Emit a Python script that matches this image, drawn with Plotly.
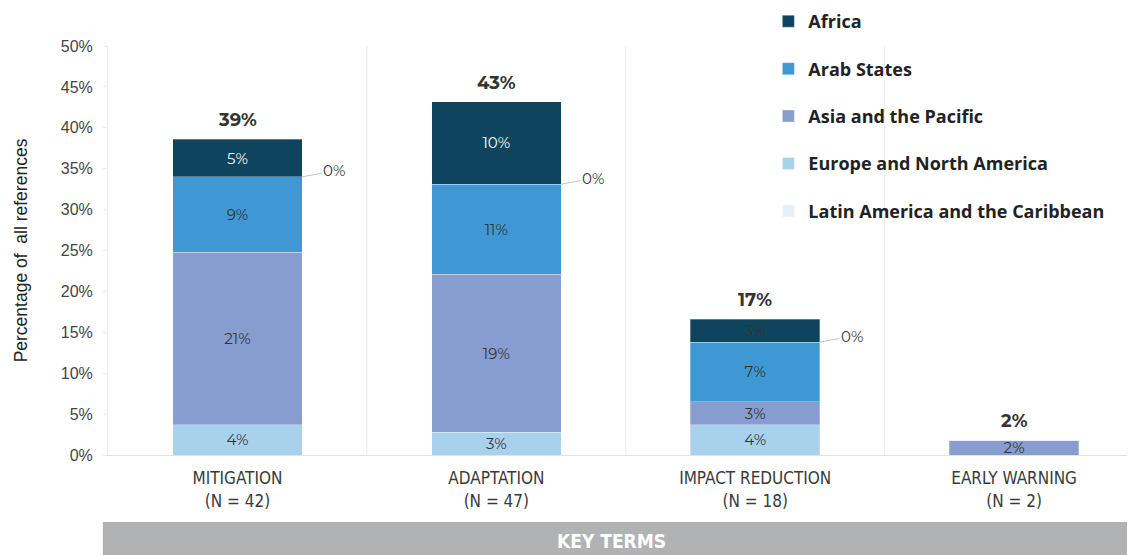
import plotly.graph_objects as go

# key terms on the x axis
categories = ["MITIGATION<br>(N = 42)", "ADAPTATION<br>(N = 47)",
              "IMPACT REDUCTION<br>(N = 18)", "EARLY WARNING<br>(N = 2)"]

# percentage of all references, per region (bottom of stack first)
latin = [0, 0, 0, 0]
europe = [3.7, 2.8, 3.7, 0]
asia = [21.1, 19.3, 2.8, 1.8]
arab = [9.2, 11.0, 7.3, 0]
africa = [4.6, 10.1, 2.8, 0]

latin_labels = ["0%", "0%", "0%", ""]
africa_text_colors = ["white", "white", "#333333", "white"]

series = [
    ("Latin America and the Caribbean", latin, "#e4f1fa"),
    ("Europe and North America", europe, "#a8d2ec"),
    ("Asia and the Pacific", asia, "#879dd0"),
    ("Arab States", arab, "#3f98d4"),
    ("Africa", africa, "#0f445f"),
]

num_font = "Montserrat, Lato, 'Noto Sans', sans-serif"
narrow_font = "'Liberation Sans Narrow', 'DejaVu Sans Condensed', 'Roboto', sans-serif"
arial = "'Liberation Sans', Arial, sans-serif"

fig = go.Figure()
for k, (name, vals, col) in enumerate(series):
    txt = [f"{round(v)}%" if v > 0 else "" for v in vals]
    if name == "Africa":
        tcol = africa_text_colors
    else:
        tcol = ["#333333"] * len(vals)
    fig.add_trace(go.Bar(
        name=name, x=categories, y=vals, marker_color=col,
        text=txt, textposition="inside", insidetextanchor="middle",
        constraintext="none",
        textfont=dict(color=tcol, size=15, family=num_font),
        legendgroup=name, legendrank=len(series) - k, width=0.5,
        marker_line=dict(width=0.6, color="rgba(255,255,255,0.5)"),
    ))

totals = [a + b + c + d + e for a, b, c, d, e in zip(latin, europe, asia, arab, africa)]
for i, t in enumerate(totals):
    fig.add_annotation(x=i, y=t, text=f"<b>{round(t)}%</b>", showarrow=False,
                       yanchor="bottom", yshift=6,
                       font=dict(size=18, color="#333333", family=num_font))

# zero-value labels with leader lines
for i, lab in enumerate(latin_labels):
    if not lab:
        continue
    top = europe[i] + asia[i] + arab[i]
    fig.add_annotation(x=i + 0.25, y=top, text=lab, showarrow=True,
                       arrowhead=0, arrowwidth=1, arrowcolor="#c4c4c4",
                       ax=32, ay=-6, font=dict(size=15, color="#333333", family=num_font))

# separators between categories
for s in [0.5, 1.5, 2.5]:
    fig.add_shape(type="line", xref="x", yref="paper", x0=s, x1=s, y0=0, y1=1,
                  line=dict(color="#ebebeb", width=1), layer="below")

# KEY TERMS banner
fig.add_shape(type="rect", xref="paper", yref="paper", x0=-0.005, x1=1.01,
              y0=-0.164, y1=-0.27, fillcolor="#b1b2b4", line_width=0)
fig.add_annotation(xref="paper", yref="paper", x=0.49, y=-0.21, yanchor="middle",
                   text="<b>KEY TERMS</b>", showarrow=False,
                   font=dict(size=19, color="white", family=narrow_font))

# the page body adds an 8px margin, so the figure is 8px smaller each way
fig.update_layout(
    barmode="stack",
    width=1127, height=547,
    margin=dict(l=100, r=0, t=38, b=100, autoexpand=False),
    paper_bgcolor="white", plot_bgcolor="white",
    font=dict(family=num_font, color="#333333"),
    xaxis=dict(range=[-0.5, 3.467], showgrid=False, showline=True, linecolor="#e3e3e3",
               tickfont=dict(size=17, family=narrow_font, color="#3a3a3a"), ticks="",
               ticklabelstandoff=8),
    yaxis=dict(range=[0, 50], dtick=5, ticksuffix="%", showgrid=False, zeroline=False,
               showline=True, linecolor="#ececec", ticks="outside", ticklen=4,
               tickcolor="#ececec", ticklabelstandoff=7,
               tickfont=dict(size=16, color="#444444", family=arial),
               title=dict(text="Percentage of  all references", standoff=28,
                          font=dict(size=17.5, color="#222222", family=arial))),
    legend=dict(x=0.643, y=1.105, xanchor="left", yanchor="top",
                traceorder="grouped", tracegroupgap=21,
                bgcolor="rgba(0,0,0,0)",
                font=dict(size=18, color="#222222", family="'Open Sans', sans-serif",
                          weight="bold")),
    showlegend=True,
)

fig.write_html("out.html")
